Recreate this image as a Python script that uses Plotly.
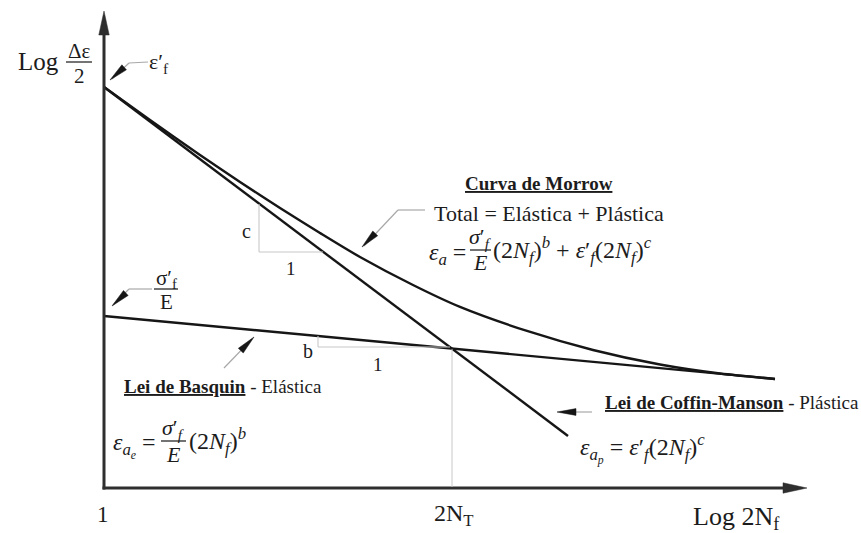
import plotly.graph_objects as go

# ---- data (log units, read from the schematic) ----
log2N_elastic = [0.0, 6.71]
logeps_elastic = [1.147, 0.727]

log2N_plastic = [0.0, 4.64]
logeps_plastic = [2.673, 0.347]

log2N_total = [0.0, 0.46, 0.96, 1.36, 1.76, 2.16, 2.56, 3.09, 3.56, 4.23, 4.89, 5.56, 6.16, 6.71]
logeps_total = [2.673, 2.453, 2.22, 2.04, 1.867, 1.70, 1.54, 1.353, 1.207, 1.047, 0.92, 0.823, 0.763, 0.727]

log2N_T = 3.48
logeps_T = 0.927

W, H = 861, 533
# pixel helpers (figure has zero margins, so axes span the whole page)
def X(px):
    return (px - 104) / 100.0

def Y(py):
    return (488 - py) / 150.0

INK = "#161616"
AX = "#2e2e2e"
GRAY = "#a8a8a8"
LG = "#c8c8c8"
SERIF = "Liberation Serif"

fig = go.Figure()
fig.add_trace(go.Scatter(x=log2N_elastic, y=logeps_elastic, mode="lines",
                         line=dict(color=INK, width=2.4), hoverinfo="skip"))
fig.add_trace(go.Scatter(x=log2N_plastic, y=logeps_plastic, mode="lines",
                         line=dict(color=INK, width=2.4), hoverinfo="skip"))
fig.add_trace(go.Scatter(x=log2N_total, y=logeps_total, mode="lines",
                         line=dict(color=INK, width=2.4, shape="spline", smoothing=0.8),
                         hoverinfo="skip"))

shapes = []

def seg(p, q, color=GRAY, width=1.2):
    shapes.append(dict(type="line", xref="x", yref="y", x0=X(p[0]), y0=Y(p[1]),
                       x1=X(q[0]), y1=Y(q[1]), line=dict(color=color, width=width),
                       layer="above"))

def wedge(tail, tip, L=19, hw=3.4, color=INK):
    dx, dy = tip[0] - tail[0], tip[1] - tail[1]
    n = (dx * dx + dy * dy) ** 0.5
    ux, uy = dx / n, dy / n
    bx, by = tip[0] - ux * L, tip[1] - uy * L
    px_, py_ = -uy, ux
    pts = [tip, (bx + px_ * hw, by + py_ * hw), (bx - px_ * hw, by - py_ * hw)]
    path = "M" + " L".join(f"{X(a)},{Y(b)}" for a, b in pts) + " Z"
    shapes.append(dict(type="path", xref="x", yref="y", path=path,
                       fillcolor=color, line=dict(color=color, width=0.5), layer="above"))

# axes with arrowheads
seg((104, 489.5), (104, 30), AX, 3)
seg((102.5, 488), (790, 488), AX, 3)
wedge((104, 40), (104, 11), L=24, hw=5.2, color=AX)
wedge((780, 488), (807, 488), L=24, hw=5.2, color=AX)

# guide lines (transition life and slope triangles)
shapes.append(dict(type="line", xref="x", yref="y", x0=log2N_T, y0=logeps_T,
                   x1=log2N_T, y1=Y(487), line=dict(color=LG, width=1), layer="above"))
seg((259, 204), (259, 252), LG, 1.1)
seg((259, 252), (323, 252), LG, 1.1)
seg((318, 336), (318, 347), LG, 1.1)
seg((318, 347), (450, 347), LG, 1.1)

# leaders
seg((148, 62), (129, 63)); seg((129, 63), (112, 79)); wedge((129, 63), (110, 80))
seg((152, 289), (129, 289)); seg((129, 289), (113, 305)); wedge((129, 290), (112, 306))
seg((425, 210), (398, 210)); seg((398, 210), (364, 246)); wedge((398, 210), (362, 247))
seg((224, 368), (252, 339)); wedge((224, 368), (254, 337))
seg((592, 412), (560, 412)); wedge((592, 412), (557, 412))

# fraction bars
seg((66, 62), (92, 62), INK, 1.2)
seg((154, 289), (178, 289), INK, 1.2)
seg((470, 250), (491, 250), INK, 1.2)
seg((161, 441), (186, 441), INK, 1.2)

ann = []

def txt(px, py, s, size=20, xa="center", color="#1c1c1c"):
    ann.append(dict(x=X(px), y=Y(py), xref="x", yref="y", text=s, showarrow=False,
                    xanchor=xa, yanchor="middle",
                    font=dict(family=SERIF, size=size, color=color)))

def i(s):
    return f"<i>{s}</i>"

SF = i("σ") + "′" + "<sub>" + i("f") + "</sub>"
EF = i("ε") + "′" + "<sub>" + i("f") + "</sub>"
TWON = "(2" + i("N") + "<sub>" + i("f") + "</sub>)"

# y label
txt(38, 61, "Log", 25)
txt(79, 51, "Δε", 21)
txt(79, 76, "2", 21)
txt(147, 63, "ε′<sub>f</sub>", 22, xa="left")
txt(166, 279, "σ′<sub>f</sub>", 21)
txt(166, 302, "E", 21)

# slope triangles
txt(246, 231, "c", 20)
txt(291, 268, "1", 19)
txt(308, 351, "b", 20)
txt(378, 364, "1", 19)

# Morrow
txt(539, 183, "<b><u>Curva de Morrow</u></b>", 19)
txt(549, 213, "Total = Elástica + Plástica", 22)
txt(468, 254, i("ε") + "<sub>" + i("a") + "</sub> =", 24, xa="right")
txt(480, 238, SF, 22)
txt(480, 262, i("E"), 22)
txt(491, 250, TWON + "<sup>" + i("b") + "</sup> + " + EF + TWON + "<sup>" + i("c") + "</sup>",
    24, xa="left")

# Basquin
txt(122, 386, "<b><u>Lei de Basquin</u></b> - Elástica", 19, xa="left")
txt(158, 445, i("ε") + "<sub>" + i("a") + "<sub>" + i("e") + "</sub></sub> =", 24, xa="right")
txt(173, 429, SF, 22)
txt(173, 454, i("E"), 22)
txt(187, 441, TWON + "<sup>" + i("b") + "</sup>", 24, xa="left")

# Coffin-Manson
txt(603, 402, "<b><u>Lei de Coffin-Manson</u></b> - Plástica", 19, xa="left")
txt(578, 448, i("ε") + "<sub>" + i("a") + "<sub>" + i("p") + "</sub></sub> = " + EF + TWON
    + "<sup>" + i("c") + "</sup>", 24, xa="left")

# x labels
txt(103, 514, "1", 23)
txt(454, 515, "2N<sub>T</sub>", 24)
txt(736, 518, "Log 2N<sub>f</sub>", 26)

fig.update_layout(
    width=W, height=H, margin=dict(l=0, r=0, t=0, b=0),
    paper_bgcolor="white", plot_bgcolor="white", showlegend=False,
    xaxis=dict(range=[X(0), X(W)], visible=False, fixedrange=True),
    yaxis=dict(range=[Y(H), Y(0)], visible=False, fixedrange=True),
    shapes=shapes, annotations=ann,
)

fig.write_html("out.html")
